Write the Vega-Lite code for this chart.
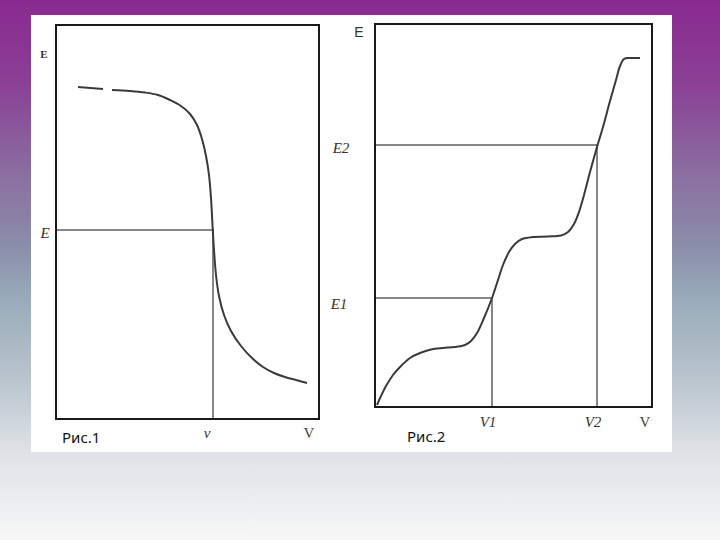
{
  "$schema": "https://vega.github.io/schema/vega-lite/v6.json",
  "width": 720,
  "height": 540,
  "padding": 0,
  "autosize": {"type": "fit", "contains": "padding"},
  "config": {"view": {"stroke": null}},
  "datasets": {
    "canvas": [{"x": 0, "x2": 720, "y": 0, "y2": 540}],
    "sheet": [{"x": 31, "x2": 672, "y": 15, "y2": 452}],
    "frames": [
      {"panel": "Рис.1", "x": 56, "x2": 319, "y": 25, "y2": 419},
      {"panel": "Рис.2", "x": 375, "x2": 652, "y": 24, "y2": 407}
    ],
    "guides": [
      {"x": 56, "x2": 214, "y": 230, "y2": 230},
      {"x": 213, "x2": 213, "y": 230, "y2": 419},
      {"x": 375, "x2": 492, "y": 298, "y2": 298},
      {"x": 492, "x2": 492, "y": 298, "y2": 407},
      {"x": 375, "x2": 597, "y": 145, "y2": 145},
      {"x": 597, "x2": 597, "y": 145, "y2": 407}
    ],
    "curves": [
      {"seg": "1a", "x": 78, "y": 87},
      {"seg": "1a", "x": 103, "y": 89},
      {"seg": "1b", "x": 112, "y": 90},
      {"seg": "1b", "x": 130, "y": 91},
      {"seg": "1b", "x": 145, "y": 92.5},
      {"seg": "1b", "x": 158, "y": 95},
      {"seg": "1b", "x": 170, "y": 100},
      {"seg": "1b", "x": 181, "y": 106},
      {"seg": "1b", "x": 190, "y": 114},
      {"seg": "1b", "x": 197, "y": 125},
      {"seg": "1b", "x": 202, "y": 139},
      {"seg": "1b", "x": 206, "y": 156},
      {"seg": "1b", "x": 209, "y": 175},
      {"seg": "1b", "x": 211, "y": 198},
      {"seg": "1b", "x": 212.5, "y": 225},
      {"seg": "1b", "x": 214, "y": 250},
      {"seg": "1b", "x": 216, "y": 275},
      {"seg": "1b", "x": 219, "y": 296},
      {"seg": "1b", "x": 224, "y": 315},
      {"seg": "1b", "x": 231, "y": 331},
      {"seg": "1b", "x": 241, "y": 346},
      {"seg": "1b", "x": 252, "y": 358},
      {"seg": "1b", "x": 263, "y": 367},
      {"seg": "1b", "x": 274, "y": 373},
      {"seg": "1b", "x": 285, "y": 377},
      {"seg": "1b", "x": 296, "y": 380},
      {"seg": "1b", "x": 307, "y": 383},
      {"seg": "2", "x": 377, "y": 405},
      {"seg": "2", "x": 381, "y": 396},
      {"seg": "2", "x": 386, "y": 386},
      {"seg": "2", "x": 393, "y": 375},
      {"seg": "2", "x": 401, "y": 366},
      {"seg": "2", "x": 410, "y": 358},
      {"seg": "2", "x": 420, "y": 353},
      {"seg": "2", "x": 431, "y": 349.5},
      {"seg": "2", "x": 443, "y": 348},
      {"seg": "2", "x": 455, "y": 347},
      {"seg": "2", "x": 465, "y": 345},
      {"seg": "2", "x": 471, "y": 341},
      {"seg": "2", "x": 477, "y": 333},
      {"seg": "2", "x": 484, "y": 318},
      {"seg": "2", "x": 492, "y": 298},
      {"seg": "2", "x": 498, "y": 280},
      {"seg": "2", "x": 503, "y": 265},
      {"seg": "2", "x": 509, "y": 252},
      {"seg": "2", "x": 515, "y": 244},
      {"seg": "2", "x": 522, "y": 239},
      {"seg": "2", "x": 533, "y": 237},
      {"seg": "2", "x": 548, "y": 236.5},
      {"seg": "2", "x": 561, "y": 235.5},
      {"seg": "2", "x": 568, "y": 232},
      {"seg": "2", "x": 574, "y": 224},
      {"seg": "2", "x": 579, "y": 212},
      {"seg": "2", "x": 584, "y": 195},
      {"seg": "2", "x": 590, "y": 172},
      {"seg": "2", "x": 597, "y": 147},
      {"seg": "2", "x": 603, "y": 127},
      {"seg": "2", "x": 610, "y": 101},
      {"seg": "2", "x": 616, "y": 80},
      {"seg": "2", "x": 620, "y": 66},
      {"seg": "2", "x": 624, "y": 59},
      {"seg": "2", "x": 630, "y": 58},
      {"seg": "2", "x": 640, "y": 58}
    ],
    "serifItalic": [
      {"label": "E", "x": 45, "y": 233},
      {"label": "v", "x": 207, "y": 433},
      {"label": "E2", "x": 341, "y": 148},
      {"label": "E1", "x": 339, "y": 304},
      {"label": "V1", "x": 488, "y": 422},
      {"label": "V2", "x": 593, "y": 422}
    ],
    "serifUpright": [
      {"label": "V", "x": 309, "y": 433},
      {"label": "V", "x": 645, "y": 422}
    ],
    "serifBold": [
      {"label": "E", "x": 44, "y": 55}
    ],
    "sansAxis": [
      {"label": "E", "x": 359, "y": 33}
    ],
    "captions": [
      {"label": "Рис.1", "x": 62, "y": 438},
      {"label": "Рис.2", "x": 407, "y": 437}
    ]
  },
  "encoding": {
    "x": {"field": "x", "type": "quantitative", "axis": null, "scale": {"domain": [0, 720], "nice": false, "zero": false}},
    "y": {"field": "y", "type": "quantitative", "axis": null, "scale": {"domain": [0, 540], "nice": false, "zero": false, "reverse": true}}
  },
  "layer": [
    {
      "data": {"name": "canvas"},
      "mark": {
        "type": "rect",
        "color": {
          "gradient": "linear", "x1": 0, "y1": 0, "x2": 0, "y2": 1,
          "stops": [
            {"offset": 0, "color": "#8a2a90"},
            {"offset": 0.15, "color": "#8a3f95"},
            {"offset": 0.32, "color": "#8a6ea0"},
            {"offset": 0.45, "color": "#8a8ca9"},
            {"offset": 0.55, "color": "#98aab9"},
            {"offset": 0.7, "color": "#b9c4cd"},
            {"offset": 0.83, "color": "#dde1e6"},
            {"offset": 1, "color": "#f7f7f7"}
          ]
        }
      },
      "encoding": {"x2": {"field": "x2"}, "y2": {"field": "y2"}}
    },
    {
      "data": {"name": "sheet"},
      "mark": {"type": "rect", "color": "#ffffff"},
      "encoding": {"x2": {"field": "x2"}, "y2": {"field": "y2"}}
    },
    {
      "data": {"name": "frames"},
      "mark": {"type": "rect", "fill": null, "stroke": "#1a1a1a", "strokeWidth": 2},
      "encoding": {"x2": {"field": "x2"}, "y2": {"field": "y2"}}
    },
    {
      "data": {"name": "guides"},
      "mark": {"type": "rule", "color": "#111111", "strokeWidth": 1},
      "encoding": {"x2": {"field": "x2"}, "y2": {"field": "y2"}}
    },
    {
      "data": {"name": "curves"},
      "mark": {"type": "line", "interpolate": "catmull-rom", "color": "#3a3a3a", "strokeWidth": 2},
      "encoding": {"detail": {"field": "seg"}, "order": {"field": "x", "type": "quantitative"}}
    },
    {
      "data": {"name": "serifItalic"},
      "mark": {"type": "text", "font": "Liberation Serif", "fontStyle": "italic", "fontSize": 15, "color": "#333333", "align": "center", "baseline": "middle"},
      "encoding": {"text": {"field": "label"}}
    },
    {
      "data": {"name": "serifUpright"},
      "mark": {"type": "text", "font": "Liberation Serif", "fontSize": 15, "color": "#444444", "align": "center", "baseline": "middle"},
      "encoding": {"text": {"field": "label"}}
    },
    {
      "data": {"name": "serifBold"},
      "mark": {"type": "text", "font": "Liberation Serif", "fontWeight": "bold", "fontSize": 11, "color": "#333333", "align": "center", "baseline": "middle"},
      "encoding": {"text": {"field": "label"}}
    },
    {
      "data": {"name": "sansAxis"},
      "mark": {"type": "text", "font": "Liberation Sans", "fontSize": 14, "color": "#333333", "align": "center", "baseline": "middle"},
      "encoding": {"text": {"field": "label"}}
    },
    {
      "data": {"name": "captions"},
      "mark": {"type": "text", "font": "Noto Sans", "fontSize": 15, "color": "#111111", "align": "left", "baseline": "middle"},
      "encoding": {"text": {"field": "label"}}
    }
  ]
}
